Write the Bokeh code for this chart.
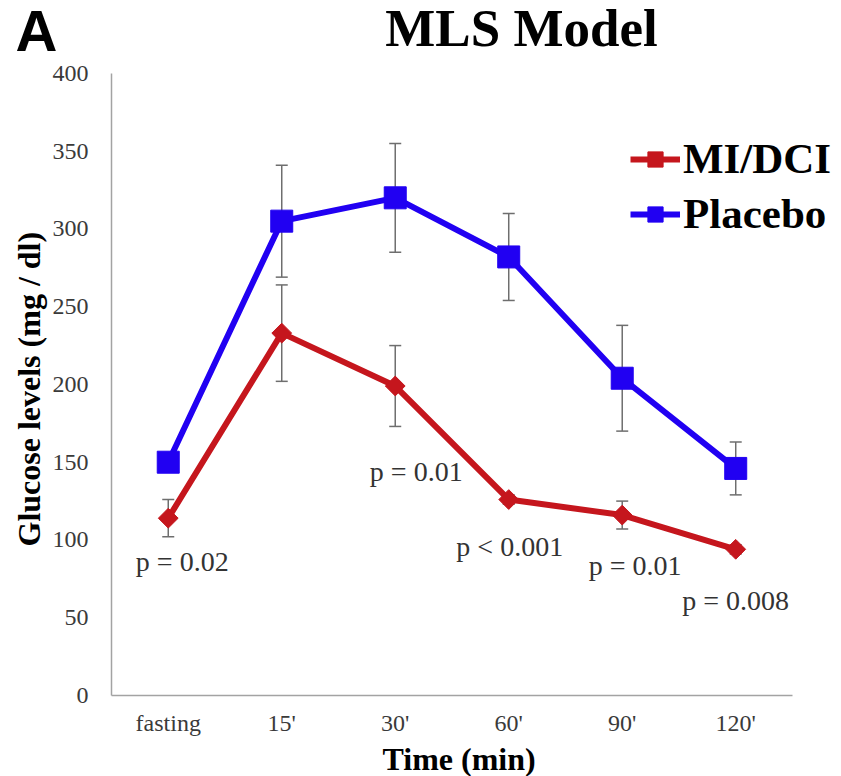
import math
from bokeh.plotting import figure
from bokeh.layouts import column
from bokeh.models import (ColumnDataSource, Range1d, Whisker, TeeHead, Title,
                          Legend, LegendItem, FixedTicker)
from bokeh.core.properties import value
from bokeh.embed import file_html
from bokeh.resources import INLINE

# ---- data ----
times = ["fasting", "15'", "30'", "60'", "90'", "120'"]
mi_dci = [114, 233, 199, 126, 116, 94]
mi_dci_err = [12, 31, 26, 3, 9, 3]
placebo = [150, 305, 320, 282, 204, 146]
placebo_err = [4, 36, 35, 28, 34, 17]
y_ticks = [0, 50, 100, 150, 200, 250, 300, 350, 400]

p_labels = ["p = 0.02", "p = 0.01", "p < 0.001", "p = 0.01", "p = 0.008"]
p_label_x = ["fasting", "30'", "60'", "90'", "120'"]
p_label_y = [82, 140, 92, 80, 57]
p_label_dx = [14, 21, 1, 13, 0]

RED = "#c5161d"
BLUE = "#2100f2"
SERIF = "Liberation Serif"

idx = {t: i for i, t in enumerate(times)}
xs = [idx[t] for t in times]

# ---- header strip ("A" + title) ----
W = 841
H_TOP = 60
top = figure(width=W, height=H_TOP, x_range=Range1d(0, W), y_range=Range1d(0, H_TOP),
             output_backend="svg", toolbar_location=None, title_location=None,
             x_axis_location=None, y_axis_location=None, frame_align=False,
             min_border=0, min_border_left=0, min_border_right=0,
             min_border_top=0, min_border_bottom=0,
             styles={"flex-shrink": "0"})
top.grid.visible = False
top.outline_line_color = None
top.text(x=[15], y=[30], text=["A"], text_align="left", text_baseline="alphabetic",
         text_font=value("Liberation Sans"), text_font_style="bold",
         text_font_size="58px", text_color="black")
top.text(x=[521], y=[33], text=["MLS Model"], text_align="center",
         text_baseline="alphabetic", text_font=value(SERIF), text_font_style="bold",
         text_font_size="53px", text_color="black")

# ---- main chart ----
H_MAIN = 776 - H_TOP
p = figure(width=W, height=H_MAIN, x_range=Range1d(-0.5, 5.932),
           y_range=Range1d(0, 408.3), output_backend="svg", toolbar_location=None,
           title_location=None, frame_align=False,
           min_border_left=111, min_border_right=0, min_border_top=0,
           min_border_bottom=77, styles={"flex-shrink": "0"})
p.outline_line_color = None
p.xgrid.grid_line_color = None
p.ygrid.grid_line_color = None
p.background_fill_color = "white"

for ax in (p.xaxis[0], p.yaxis[0]):
    ax.axis_line_color = "#a3a3a3"
    ax.axis_line_width = 1.5
    ax.major_tick_line_color = None
    ax.minor_tick_line_color = None
    ax.major_tick_out = 0
    ax.major_tick_in = 0
    ax.major_label_text_font = SERIF
    ax.major_label_text_font_size = "24px"
    ax.major_label_text_color = "#3a3a3a"
p.yaxis[0].ticker = FixedTicker(ticks=y_ticks)
p.yaxis[0].bounds = (0, 400)
p.yaxis[0].major_label_standoff = 23
p.xaxis[0].ticker = FixedTicker(ticks=xs)
p.xaxis[0].major_label_overrides = {i: t for i, t in enumerate(times)}
p.xaxis[0].bounds = (-0.5, len(times) - 0.5)
p.xaxis[0].major_label_standoff = 14

p.add_layout(Title(text="Time (min)", align="left", offset=271, standoff=0,
                   text_font=SERIF, text_font_style="bold", text_font_size="32px",
                   text_color="black"), "below")
p.add_layout(Title(text="Glucose levels (mg / dl)", align="left", offset=149,
                   standoff=6, text_font=SERIF, text_font_style="bold",
                   text_font_size="32px", text_color="black"), "left")

# error bars
for vals, errs in ((placebo, placebo_err), (mi_dci, mi_dci_err)):
    src = ColumnDataSource(dict(x=xs,
                                upper=[v + e for v, e in zip(vals, errs)],
                                lower=[v - e for v, e in zip(vals, errs)]))
    w = Whisker(base="x", upper="upper", lower="lower", source=src,
                line_color="#6e6e6e", line_width=1.5, level="underlay",
                upper_head=TeeHead(size=12, line_color="#6e6e6e", line_width=1.5),
                lower_head=TeeHead(size=12, line_color="#6e6e6e", line_width=1.5))
    p.add_layout(w)

psrc = ColumnDataSource(dict(x=xs, y=placebo))
msrc = ColumnDataSource(dict(x=xs, y=mi_dci))

ml = p.line("x", "y", source=msrc, line_color=RED, line_width=6)
ms = p.scatter("x", "y", source=msrc, marker="square", angle=math.pi / 4, size=14,
               fill_color=RED, line_color=RED)
pl = p.line("x", "y", source=psrc, line_color=BLUE, line_width=6)
ps = p.scatter("x", "y", source=psrc, marker="square", size=22,
               fill_color=BLUE, line_color=BLUE)

# p-value annotations
tsrc = ColumnDataSource(dict(x=[idx[t] for t in p_label_x], y=p_label_y,
                             t=p_labels, dx=p_label_dx))
p.text("x", "y", text="t", x_offset="dx", y_offset=-6, source=tsrc,
       text_align="center", text_baseline="alphabetic", text_font=value(SERIF),
       text_font_size="28px", text_color="#333333")

legend = Legend(items=[LegendItem(label="MI/DCI", renderers=[ml, ms]),
                       LegendItem(label="Placebo", renderers=[pl, ps])],
                location=(519, 457), padding=0, spacing=6, margin=0,
                glyph_width=50, glyph_height=38, label_standoff=3,
                label_text_font=SERIF, label_text_font_style="bold",
                label_text_font_size="43px", label_text_color="black",
                border_line_color=None, background_fill_alpha=0)
p.add_layout(legend)

open("out.html", "w").write(file_html(column(top, p, spacing=0), INLINE))
